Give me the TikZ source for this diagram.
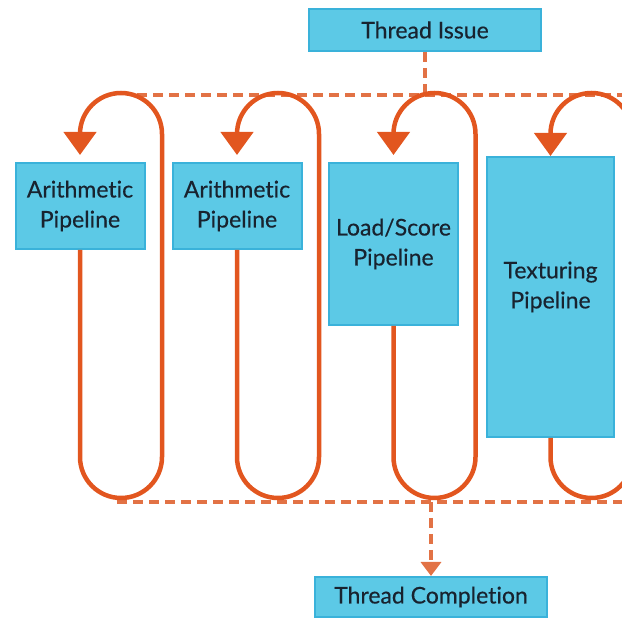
\documentclass[tikz,border=0pt]{standalone}
\usepackage{fontspec}
\setmainfont{Lato}[Ligatures=NoCommon, FakeBold=0.4]
\usetikzlibrary{arrows.meta,positioning}
\definecolor{pipefill}{HTML}{5CC9E6}
\definecolor{pipeedge}{HTML}{3AB2DA}
\definecolor{looporange}{HTML}{E2561F}
\definecolor{dashorange}{HTML}{E27245}
\definecolor{labeltext}{HTML}{18232F}
\tikzset{
        block/.style = {draw=pipeedge, fill=pipefill, line width=2pt, rectangle,
            inner sep=0pt, align=center, text=labeltext,
            font=\fontsize{23}{30}\selectfont},
        pipe/.style = {block, minimum width=129pt, minimum height=86pt},
        looparrow/.style = {draw=looporange, line width=4.5pt,
            -{Triangle[width=32pt,length=23pt]}},
        dashline/.style = {draw=dashorange, line width=4pt, dash pattern=on 10pt off 6pt},
    }

\begin{document}
\begin{tikzpicture}[x=1pt,y=1pt]
    \clip (0,0) rectangle (622,618);

    \node[block, minimum width=232pt, minimum height=42pt] (issue) at (425,588) {Thread Issue};
    \node[pipe] (a1) at (80,412) {Arithmetic\\Pipeline};
    \node[pipe, right=26pt of a1] (a2) {Arithmetic\\Pipeline};
    \node[pipe, minimum height=162pt] (ls) at (393.5,374) {Load/Score\\Pipeline};
    \node[pipe, minimum width=127pt, minimum height=280pt] (tx) at (550.5,321)
        {Texturing\\Pipeline\\[-6pt]\mbox{}};
    \node[block, minimum width=232pt, minimum height=40pt] (done) at (431,21) {Thread Completion};

    % dispatch and gather lines
    \coordinate (tl) at (137,523);
    \coordinate (tr) at (622,523);
    \coordinate (bl) at (117,116);
    \coordinate (br) at (622,116);
    \coordinate (low) at (0,161);
    \draw[dashline] (issue.south) -- (issue.south |- tl);
    \draw[dashline] (tl) -- (tr);
    \draw[dashline] (bl) -- (br);
    \draw[dashline, -{Triangle[width=20pt,length=14pt]}] (done.north |- bl) -- (done.north);

    % one loop per pipeline
    \foreach \b/\gap in {a1/7,a2/7,ls/7,tx/0}
        \draw[looparrow, shorten >=\gap pt] (\b.south) -- (\b.south |- low)
            arc[start angle=180, end angle=360, radius=41pt] -- ++(0,323)
            arc[start angle=0, end angle=180, radius=41pt] -- (\b.north);
\end{tikzpicture}
\end{document}
